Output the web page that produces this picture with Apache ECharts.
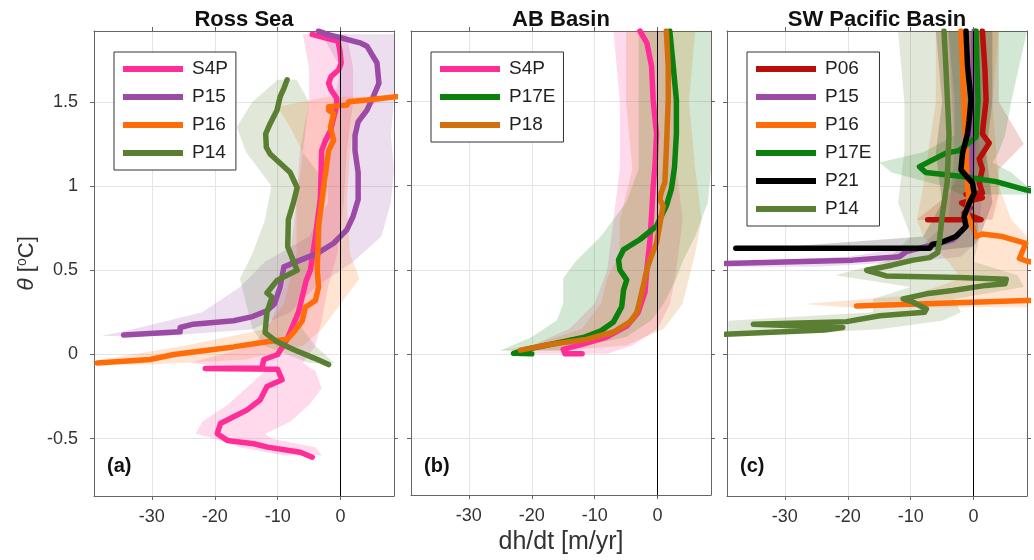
<!DOCTYPE html>
<html>
<head>
<meta charset="utf-8">
<script src="https://cdn.jsdelivr.net/npm/echarts@6/dist/echarts.min.js"></script>
<style>
html,body{margin:0;padding:0;background:#fff;}
#main{width:1034px;height:560px;}
</style>
</head>
<body>
<div id="main"></div>
<script>
// ---------- axes / labels ----------
const X_MIN = -39.2, X_MAX = 8.5;
const Y_MIN = -0.84, Y_MAX = 1.92;
const xTicks = [-30, -20, -10, 0];
const yTicks = [-0.5, 0, 0.5, 1, 1.5];
const panelTitles = ['Ross Sea', 'AB Basin', 'SW Pacific Basin'];
const panelLetters = ['(a)', '(b)', '(c)'];
const xAxisName = 'dh/dt [m/yr]';

// ---------- panel (a) Ross Sea : [dh/dt, theta] ----------
const rossS4P = [[-4.5,1.90],[-2.5,1.88],[-0.4,1.86],[-0.1,1.80],[0.1,1.73],[-0.3,1.69],[-1.5,1.65],[-1.9,1.61],[-1.5,1.57],[-0.6,1.52],[-0.6,1.48],[-1.0,1.42],[-1.6,1.33],[-2.4,1.27],[-3.0,1.21],[-3.2,0.93],[-4.0,0.70],[-4.8,0.50],[-5.45,0.44],[-6.7,0.25],[-8.5,0.09],[-10,0.0],[-12.2,-0.03],[-12.5,-0.08],[-21.5,-0.083],[-10,-0.088],[-9.3,-0.15],[-11.7,-0.19],[-12.8,-0.27],[-14.9,-0.33],[-17,-0.37],[-19.1,-0.41],[-19.6,-0.47],[-18,-0.51],[-13.8,-0.53],[-11.6,-0.55],[-6.4,-0.58],[-4.5,-0.61]];
const rossP15 = [[-3.5,1.92],[-2.1,1.90],[0,1.88],[3.1,1.85],[4.2,1.83],[5.8,1.73],[6.1,1.61],[5.2,1.53],[4.2,1.45],[2.8,1.38],[2.3,1.30],[2.3,1.21],[2.8,1.08],[2.8,0.92],[2.0,0.82],[1.0,0.74],[-1.1,0.66],[-3.7,0.60],[-6.4,0.56],[-9.0,0.52],[-9.6,0.40],[-10.5,0.30],[-11.7,0.26],[-14,0.225],[-17,0.20],[-23.4,0.18],[-25.5,0.16],[-25.5,0.135],[-34.5,0.115]];
const rossP16 = [[10,1.535],[4.2,1.51],[1.3,1.50],[1.0,1.48],[-1.9,1.47],[-1.9,1.45],[-1.1,1.43],[-1.6,1.35],[-1.1,1.27],[-1.9,1.21],[-2.7,0.99],[-3.5,0.76],[-3.7,0.50],[-3.5,0.40],[-4.0,0.32],[-5.6,0.28],[-6.1,0.20],[-7.5,0.13],[-8.5,0.09],[-11.7,0.075],[-17,0.045],[-23.4,0.015],[-26.5,0.0],[-30.3,-0.03],[-38.7,-0.05]];
const rossP14 = [[-8.5,1.63],[-9.0,1.58],[-9.6,1.53],[-10.1,1.45],[-11.2,1.37],[-11.9,1.31],[-11.8,1.23],[-11.2,1.19],[-8.0,1.08],[-6.9,0.99],[-7.5,0.90],[-8.3,0.80],[-8.4,0.64],[-6.9,0.50],[-10.1,0.44],[-11.7,0.365],[-10.9,0.34],[-11.7,0.25],[-12.0,0.13],[-10.1,0.075],[-7.5,0.03],[-4.3,-0.02],[-1.9,-0.06]];
// uncertainty bands : [theta, low, high]
const rossS4PBand = [[1.9,-6,1],[1.7,-5,2],[1.5,-5,2],[1.2,-6.5,1],[0.9,-7,0.5],[0.6,-8,-0.5],[0.4,-9,-2],[0.2,-11,-3],[0.05,-14,-4],[-0.05,-24,-6],[-0.1,-12,-4],[-0.2,-15,-3],[-0.3,-18,-5],[-0.4,-22,-8],[-0.47,-23,-12],[-0.5,-20,-11],[-0.55,-16,-4],[-0.6,-9,-3]];
const rossP15Band = [[1.9,-3,8.5],[1.7,0,8.5],[1.5,-1,8.5],[1.3,-2,8],[1.1,-2,8.5],[0.9,-2,8],[0.7,-5,6.5],[0.55,-12,2],[0.4,-16,-4],[0.25,-22,-8],[0.15,-33,-14],[0.11,-38,-28]];
const rossP16Band = [[1.53,-2,8.5],[1.47,-10,4],[1.35,-8,2],[1.2,-6,1.5],[0.9,-7,1],[0.6,-7,1.5],[0.45,-8,3],[0.3,-9,0],[0.15,-12,-3],[0.05,-25,-6],[-0.03,-38,-15],[-0.06,-39,-30]];
const rossP14Band = [[1.63,-10,-7],[1.5,-14,-5],[1.35,-16.5,-5.5],[1.2,-15,-6],[1.0,-11,-2],[0.8,-12,-3],[0.6,-14,-3],[0.45,-16,-5],[0.3,-15,-7],[0.15,-14,-6],[0.05,-12,-4],[-0.05,-5,-1]];

// ---------- panel (b) AB Basin ----------
const abS4P = [[-2.8,1.92],[-1.7,1.85],[-0.95,1.71],[-0.7,1.51],[-0.16,1.31],[-0.4,1.12],[-0.7,0.99],[-0.95,0.82],[-1.2,0.68],[-1.7,0.50],[-2.0,0.365],[-3.1,0.245],[-4.9,0.165],[-8.1,0.10],[-12,0.056],[-15,0.027],[-14.7,0.0],[-12,0.0]];
const abP17E = [[1.95,1.92],[2.5,1.71],[3.0,1.51],[3.0,1.31],[2.7,1.11],[2.2,0.98],[1.4,0.88],[-0.16,0.76],[-2.8,0.68],[-5.4,0.62],[-6.2,0.56],[-6.0,0.50],[-4.9,0.44],[-5.4,0.38],[-5.7,0.28],[-7.0,0.19],[-9.1,0.135],[-11.8,0.097],[-17.1,0.056],[-20.8,0.027],[-22.9,0.003],[-20,0.0]];
const abP18 = [[1.4,1.92],[1.7,1.71],[1.7,1.51],[1.4,1.21],[1.16,1.02],[0.6,0.96],[0.36,0.92],[0.9,0.88],[0.6,0.82],[-0.16,0.66],[-1.2,0.56],[-1.7,0.50],[-2.3,0.40],[-2.8,0.32],[-3.3,0.245],[-4.4,0.19],[-7.0,0.13],[-11.3,0.086],[-17.1,0.056],[-21.8,0.022]];
const abS4PBand = [[1.92,-7,2],[1.5,-6,3],[1.1,-6,3],[0.8,-7,4],[0.5,-8,3],[0.3,-10,2],[0.15,-14,0],[0.05,-20,-4],[0.0,-23,-8]];
const abP17EBand = [[1.92,-3,8.5],[1.5,-3,8.5],[1.1,-3,8.5],[0.9,-5,8],[0.7,-9,6],[0.55,-13,4],[0.45,-15,3],[0.3,-15,1],[0.2,-16,-1],[0.1,-20,-5],[0.02,-25,-15]];
const abP18Band = [[1.92,-5,6],[1.5,-5,5],[1.1,-4,6],[0.8,-6,7],[0.6,-6,6],[0.45,-8,5],[0.3,-9,4],[0.15,-12,1],[0.05,-20,-5],[0.02,-25,-15]];

// ---------- panel (c) SW Pacific Basin ----------
const swP06 = [[1.4,1.92],[1.8,1.7],[2.0,1.51],[1.4,1.31],[2.5,1.255],[0.9,1.16],[1.4,1.10],[0.9,1.02],[1.4,0.96],[-1.2,0.95],[1.4,0.93],[-1.9,0.90],[-0.5,0.87],[-1.5,0.84],[1.2,0.80],[-7.3,0.80]];
const swP15 = [[0.1,1.92],[-0.2,1.5],[-0.16,1.21],[-0.5,0.95],[-1.2,0.76],[-3.3,0.68],[-5.5,0.66],[-10.7,0.61],[-11.8,0.58],[-19.2,0.56],[-39.5,0.54]];
const swP16 = [[-2.0,1.92],[-1.5,1.51],[-1.2,1.21],[-0.95,0.99],[-0.7,0.92],[-1.2,0.84],[-0.16,0.76],[0.4,0.70],[1.4,0.715],[4.6,0.70],[8.3,0.66],[7.3,0.57],[8.4,0.555],[12,0.53],[12,0.32],[8.4,0.32],[-18.6,0.288]];
const swP17E = [[0.4,1.92],[0.7,1.51],[0.4,1.29],[-2.3,1.21],[-4.4,1.195],[-8.6,1.115],[-7.6,1.08],[-1.75,1.056],[3.6,1.026],[8.3,0.977],[12,0.95]];
const swP21 = [[-1.2,1.92],[-0.95,1.71],[-0.4,1.51],[-0.7,1.39],[-0.95,1.31],[-1.75,1.195],[-2.0,1.096],[-0.16,1.017],[0.1,0.957],[-0.7,0.898],[-1.5,0.82],[-1.2,0.76],[-2.8,0.70],[-5.5,0.66],[-6.5,0.655],[-7,0.63],[-37.8,0.63]];
const swP14 = [[-4.7,1.92],[-4.4,1.71],[-3.9,1.31],[-4.2,1.02],[-5.0,0.82],[-5.4,0.68],[-5.7,0.605],[-7.0,0.575],[-9.6,0.56],[-13,0.53],[-17,0.50],[-17.2,0.49],[-13.9,0.466],[-2.3,0.457],[5.2,0.447],[5.0,0.42],[2.0,0.41],[-3.3,0.38],[-7.5,0.36],[-11.2,0.33],[-9.6,0.31],[-7.5,0.27],[-7.8,0.25],[-14.9,0.23],[-20.2,0.195],[-35,0.18],[-20.8,0.16],[-23.7,0.145],[-39.5,0.12]];
const swP06Band = [[1.92,-1,4],[1.5,-1,4],[1.25,-1,8],[1.1,-2,4],[0.95,-4,4],[0.8,-9,3]];
const swP15Band = [[1.92,-4,2],[1.2,-3,2],[0.8,-4,1],[0.65,-8,0],[0.58,-20,-2],[0.55,-39,-10],[0.52,-39,-25]];
const swP16Band = [[1.92,-6,4],[1.5,-6,3],[1.0,-8,4],[0.8,-9,6],[0.7,-8,8.5],[0.55,-4,8.5],[0.45,-2,8.5],[0.35,-10,8.5],[0.3,-27,8.5],[0.28,-20,8.5]];
const swP17EBand = [[1.92,-4,8.5],[1.5,-3,6],[1.3,-3,5],[1.2,-8,4],[1.14,-15,3],[1.08,-13,6],[1.0,-5,8.5],[0.95,-2,8.5]];
const swP21Band = [[1.92,-6,3],[1.5,-5,3],[1.2,-6,2],[0.9,-5,3],[0.7,-8,1],[0.64,-30,0],[0.62,-38,-5]];
const swP14Band = [[1.92,-12,-1],[1.5,-11,0],[1.2,-11,1],[0.9,-12,0],[0.7,-10,1],[0.55,-14,0],[0.47,-22,7],[0.40,-10,8],[0.33,-16,-3],[0.25,-16,-2],[0.2,-39,-5],[0.15,-39,-15],[0.12,-39,-30]];

// ---------- colours ----------
const colors = {
  S4P: '#ff2e96', P15: '#9b4aa6', P16: '#ff6c08', P14: '#5b7f32',
  P17E: '#0b800f', P18: '#d2700d', P06: '#b80f0a', P21: '#000000'
};

const panels = [
  { names: ['S4P','P15','P16','P14'], lines: [rossS4P, rossP15, rossP16, rossP14], bands: [rossS4PBand, rossP15Band, rossP16Band, rossP14Band] },
  { names: ['S4P','P17E','P18'], lines: [abS4P, abP17E, abP18], bands: [abS4PBand, abP17EBand, abP18Band] },
  { names: ['P06','P15','P16','P17E','P21','P14'], lines: [swP06, swP15, swP16, swP17E, swP21, swP14], bands: [swP06Band, swP15Band, swP16Band, swP17EBand, swP21Band, swP14Band] }
];

const FONT = '"Liberation Sans", Arial, Helvetica, sans-serif';
const gridLefts = [94, 411, 727];
const GRID_TOP = 31, GRID_W = 300, GRID_H = 465;
const AX = '#666';

function hexToRgba(hex, a) {
  const n = parseInt(hex.slice(1), 16);
  return 'rgba(' + ((n >> 16) & 255) + ',' + ((n >> 8) & 255) + ',' + (n & 255) + ',' + a + ')';
}

const grids = [], xAxes = [], yAxes = [], series = [], legends = [], titles = [];
panels.forEach((p, gi) => {
  grids.push({ left: gridLefts[gi], top: GRID_TOP, width: GRID_W, height: GRID_H, show: false });
  const xb = {
    type: 'value', gridIndex: gi, min: X_MIN, max: X_MAX, position: 'bottom',
    axisLine: { show: true, onZero: false, lineStyle: { color: AX, width: 1 } },
    axisTick: { show: true, inside: false, length: 4, customValues: xTicks, lineStyle: { color: AX } },
    axisLabel: { show: true, customValues: xTicks, color: '#333', fontSize: 18, margin: 12, fontFamily: FONT },
    splitLine: { show: true, lineStyle: { color: '#e4e4e4', width: 1 } }
  };
  if (gi === 1) {
    xb.name = xAxisName; xb.nameLocation = 'middle'; xb.nameGap = 27;
    xb.nameTextStyle = { fontSize: 25, color: '#333', fontFamily: FONT };
  }
  xAxes.push(xb);
  xAxes.push({
    type: 'value', gridIndex: gi, min: X_MIN, max: X_MAX, position: 'top',
    axisLine: { show: true, onZero: false, lineStyle: { color: AX, width: 1 } },
    axisTick: { show: true, inside: false, length: 4, customValues: xTicks, lineStyle: { color: AX } },
    axisLabel: { show: false, customValues: xTicks }, splitLine: { show: false }
  });
  const yl = {
    type: 'value', gridIndex: gi, min: Y_MIN, max: Y_MAX, position: 'left',
    axisLine: { show: true, onZero: false, lineStyle: { color: AX, width: 1 } },
    axisTick: { show: true, inside: false, length: 4, customValues: yTicks, lineStyle: { color: AX } },
    axisLabel: { show: gi === 0, customValues: yTicks, color: '#333', fontSize: 18, margin: 16, fontFamily: FONT },
    splitLine: { show: true, lineStyle: { color: '#e4e4e4', width: 1 } }
  };
  if (gi === 0) {
    yl.name = '{i|θ} [{s|o}C]';
    yl.nameLocation = 'middle'; yl.nameGap = 56; yl.nameRotate = 90;
    yl.nameTextStyle = { fontSize: 22, color: '#333', fontFamily: FONT,
      rich: { i: { fontStyle: 'italic', fontSize: 23, fontFamily: FONT, color: '#333' },
              s: { fontSize: 14, fontFamily: FONT, color: '#333', verticalAlign: 'top', padding: [0, 0, 9, 0] } } };
  }
  yAxes.push(yl);
  yAxes.push({
    type: 'value', gridIndex: gi, min: Y_MIN, max: Y_MAX, position: 'right',
    axisLine: { show: true, onZero: false, lineStyle: { color: AX, width: 1 } },
    axisTick: { show: true, inside: false, length: 4, customValues: yTicks, lineStyle: { color: AX } },
    axisLabel: { show: false, customValues: yTicks }, splitLine: { show: false }
  });

  p.names.forEach((nm, k) => {
    const band = p.bands[k];
    const col = colors[nm];
    series.push({
      type: 'custom', name: nm + ' range', xAxisIndex: gi * 2, yAxisIndex: gi * 2,
      clip: true, silent: true,
      data: band.map(r => [r[1], r[0], r[2]]),
      renderItem: function (params, api) {
        if (params.dataIndex !== 0) return null;
        const pts = [];
        for (let i = 0; i < band.length; i++) pts.push(api.coord([band[i][1], band[i][0]]));
        for (let i = band.length - 1; i >= 0; i--) pts.push(api.coord([band[i][2], band[i][0]]));
        return { type: 'polygon', shape: { points: pts }, style: { fill: hexToRgba(col, 0.18), stroke: null } };
      }
    });
    series.push({
      type: 'line', name: nm, xAxisIndex: gi * 2, yAxisIndex: gi * 2,
      data: p.lines[k], symbol: 'none', showSymbol: false, clip: true,
      lineStyle: { color: col, width: 5.5, join: 'round', cap: 'round' },
      itemStyle: { color: col }, emphasis: { disabled: true }
    });
  });
  // zero reference line
  series[series.length - 1].markLine = {
    silent: true, symbol: 'none', animation: false, label: { show: false },
    lineStyle: { color: '#000', width: 1, type: 'solid' },
    data: [{ xAxis: 0 }]
  };

  legends.push({
    data: p.names, left: [114, 431, 747][gi], top: 52, orient: 'vertical',
    icon: 'rect', itemWidth: 60, itemHeight: 6, itemGap: 8,
    backgroundColor: '#fff', borderColor: '#333', borderWidth: 1, borderRadius: 0,
    padding: [7, 8, 7, 9], selectedMode: false,
    textStyle: { fontSize: 19, color: '#222', fontFamily: FONT, lineHeight: 20, padding: [0, 0, 0, 4] }
  });
  titles.push({ text: panelTitles[gi], left: gridLefts[gi] + GRID_W / 2, top: 9, textAlign: 'center', padding: 0,
    textStyle: { fontSize: 22, fontWeight: 'bold', color: '#111', fontFamily: FONT } });
  titles.push({ text: panelLetters[gi], left: gridLefts[gi] + 13, top: 456, padding: 0,
    textStyle: { fontSize: 20, fontWeight: 'bold', color: '#111', fontFamily: FONT } });
});

const chart = echarts.init(document.getElementById('main'), null, { renderer: 'canvas' });
chart.setOption({
  animation: false,
  backgroundColor: '#fff',
  title: titles, grid: grids, xAxis: xAxes, yAxis: yAxes, legend: legends, series: series
});
</script>
</body>
</html>
